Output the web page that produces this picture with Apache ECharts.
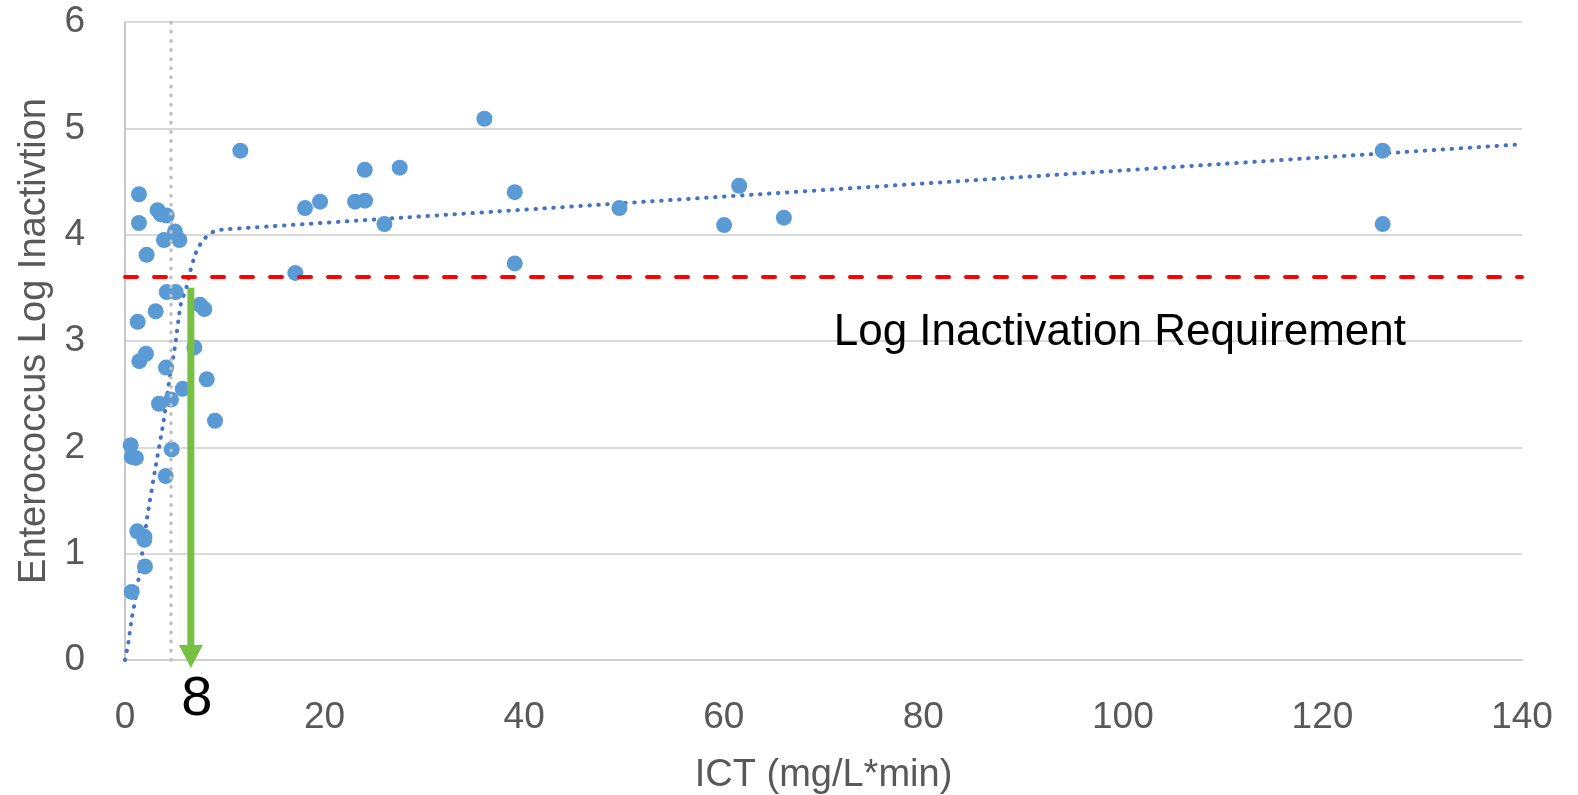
<!DOCTYPE html>
<html lang="en">
<head>
    <meta charset="UTF-8">
    <title>Enterococcus Log Inactivation vs ICT</title>
    <script type="text/javascript" src="https://cdn.jsdelivr.net/npm/echarts@6/dist/echarts.min.js"></script>
    <style>
        html, body { margin: 0; padding: 0; background: #fff; }
        #chart { width: 1578px; height: 795px; }
    </style>
</head>
<body>
<div id="chart"></div>
<script>
    // measured points
    var ictValues = [1.40, 3.27, 3.60, 4.18, 1.40, 5.01, 3.91, 5.45, 2.17, 4.18, 5.08, 7.52, 7.95, 3.07, 1.27,
        2.10, 1.44, 6.95, 4.11, 8.19, 5.78, 4.61, 3.41, 9.02, 0.57, 0.68, 1.09, 4.68, 4.08, 1.23, 1.94, 1.94, 2.00, 0.67,
        11.56, 17.07, 18.04, 19.55, 23.06, 24.06, 24.03, 26.0, 27.53, 36.02, 39.06, 39.06, 49.55, 60.04, 61.55, 66.03,
        126.04, 126.04];
    var logValues = [4.38, 4.23, 4.19, 4.18, 4.11, 4.03, 3.95, 3.95, 3.81, 3.46, 3.46, 3.34, 3.30, 3.28, 3.18,
        2.88, 2.81, 2.94, 2.75, 2.64, 2.55, 2.45, 2.41, 2.25, 2.02, 1.91, 1.90, 1.98, 1.73, 1.21, 1.16, 1.13, 0.88, 0.64,
        4.79, 3.64, 4.25, 4.31, 4.31, 4.32, 4.61, 4.10, 4.63, 5.09, 4.40, 3.73, 4.25, 4.09, 4.46, 4.16,
        4.79, 4.10];

    // fitted model curve
    var trendX = [0, 0.33, 0.67, 1.0, 1.4, 2.24, 3.07, 3.84, 4.44, 5.01, 5.58, 6.18, 6.52, 7.02, 7.35, 7.85, 8.5, 9.2, 10, 140];
    var trendY = [0, 0.16, 0.39, 0.55, 0.79, 1.35, 1.82, 2.23, 2.63, 2.95, 3.34, 3.51, 3.65, 3.81, 3.88, 3.95, 4.01, 4.04, 4.05, 4.85];

    var requirement = 3.6;
    var ctLine = 4.6;
    var arrowX = 6.6, arrowTop = 3.5;
    var arrowLabel = '8';
    var reqLabel = 'Log Inactivation Requirement';

    var xTicks = [0, 140, 20];
    var yTicks = [0, 6, 1];

    var scatterData = [];
    for (var i = 0; i < ictValues.length; i++) {
        scatterData.push([ictValues[i], logValues[i]]);
    }
    var trendData = [];
    for (var j = 0; j < trendX.length; j++) {
        trendData.push([trendX[j], trendY[j]]);
    }

    var font = 'Liberation Sans, Arial, sans-serif';
    var myChart = echarts.init(document.getElementById('chart'));
    var option = {
        animation: false,
        grid: {left: 125, right: 56, top: 22, bottom: 135, outerBoundsMode: 'none', containLabel: false},
        xAxis: {
            type: 'value',
            min: xTicks[0], max: xTicks[1], interval: xTicks[2],
            name: 'ICT (mg/L*min)',
            nameLocation: 'middle',
            nameGap: 97,
            nameTextStyle: {color: '#595959', fontSize: 38, fontFamily: font},
            axisLine: {show: true, lineStyle: {color: '#d0d0d0', width: 2}},
            axisTick: {show: false},
            axisLabel: {color: '#595959', fontSize: 37, fontFamily: font, margin: 39},
            splitLine: {show: false}
        },
        yAxis: {
            type: 'value',
            min: yTicks[0], max: yTicks[1], interval: yTicks[2],
            name: 'Enterococcus Log Inactivtion',
            nameLocation: 'middle',
            nameGap: 68,
            nameTextStyle: {color: '#595959', fontSize: 38, fontFamily: font},
            axisLine: {show: true, lineStyle: {color: '#c8c8c8', width: 2}},
            axisTick: {show: false},
            axisLabel: {color: '#595959', fontSize: 37, fontFamily: font, margin: 40},
            splitLine: {show: true, lineStyle: {color: '#d9d9d9', width: 2}}
        },
        series: [
            {
                name: 'ref',
                type: 'line',
                data: [],
                silent: true,
                markLine: {
                    silent: true,
                    symbol: 'none',
                    label: {show: false},
                    data: [
                        {
                            xAxis: ctLine,
                            lineStyle: {color: '#c0c0c0', width: 3.5, type: [0.5, 8.6], cap: 'round'}
                        },
                        {
                            yAxis: requirement,
                            lineStyle: {color: '#ff0000', width: 4, type: [12, 17], cap: 'round'}
                        }
                    ]
                },
                markPoint: {
                    silent: true,
                    symbol: 'circle',
                    symbolSize: 0,
                    data: [
                        {
                            coord: [99.7, 3.08],
                            label: {show: true, formatter: reqLabel, color: '#000', fontSize: 44, fontFamily: font}
                        }
                    ]
                }
            },
            {
                name: 'Model',
                type: 'line',
                data: trendData,
                showSymbol: false,
                smooth: 0.2,
                silent: true,
                lineStyle: {color: '#4472c4', width: 4, type: [0.5, 8.5], cap: 'round'},
                z: 3
            },
            {
                name: 'Data',
                type: 'scatter',
                data: scatterData,
                symbolSize: 16,
                itemStyle: {color: '#5b9bd5', opacity: 1},
                z: 4
            }
        ]
    };
    myChart.setOption(option);

    // green arrow and its "8" label, placed through the chart's own scales
    var arrowStart = myChart.convertToPixel({gridIndex: 0}, [arrowX, arrowTop]);
    var arrowBase = myChart.convertToPixel({gridIndex: 0}, [arrowX, 0]);
    var labelPos = myChart.convertToPixel({gridIndex: 0}, [7.2, -0.37]);
    var tipY = arrowBase[1] + 8, headLen = 23, headHalf = 12;
    var ax = arrowStart[0];
    myChart.setOption({
        graphic: [
            {
                type: 'rect', z: 100,
                shape: {x: ax - 3.5, y: arrowStart[1], width: 7, height: tipY - headLen - arrowStart[1] + 1},
                style: {fill: '#78c043'}
            },
            {
                type: 'polygon', z: 100,
                shape: {points: [[ax - headHalf, tipY - headLen], [ax + headHalf, tipY - headLen], [ax, tipY]]},
                style: {fill: '#78c043'}
            },
            {
                type: 'text', z: 100, x: labelPos[0], y: labelPos[1],
                style: {text: arrowLabel, fill: '#000', font: '56px ' + font, align: 'center', verticalAlign: 'middle'}
            }
        ]
    });
</script>
</body>
</html>
